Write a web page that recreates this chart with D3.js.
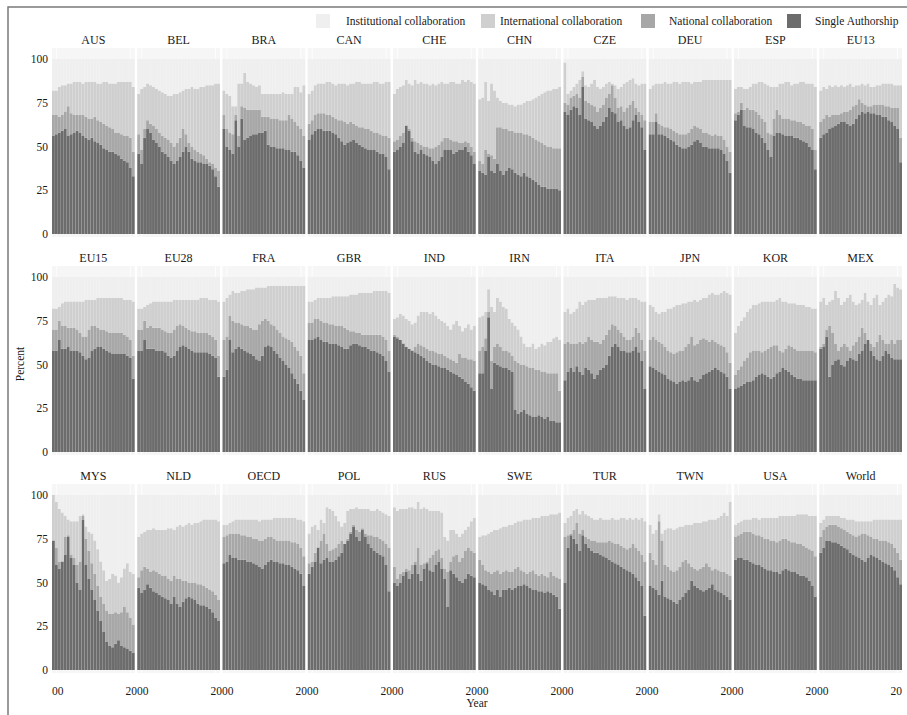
<!DOCTYPE html>
<html>
<head>
<meta charset="utf-8">
<script src="https://cdn.jsdelivr.net/npm/d3@7"></script>
<style>
  body { margin: 0; background: #fff; }
  svg { display: block; font-family: "Liberation Serif", "Times New Roman", serif; }
</style>
</head>
<body>
<svg id="chart" width="907" height="715"></svg>
<script>
// Panels (facets), in reading order
const panels = ["AUS","BEL","BRA","CAN","CHE","CHN","CZE","DEU","ESP","EU13",
                "EU15","EU28","FRA","GBR","IND","IRN","ITA","JPN","KOR","MEX",
                "MYS","NLD","OECD","POL","RUS","SWE","TUR","TWN","USA","World"];

const years = [1990,1991,1992,1993,1994,1995,1996,1997,1998,1999,2000,2001,2002,2003,
               2004,2005,2006,2007,2008,2009,2010,2011,2012,2013,2014,2015,2016,2017];

// Cumulative percent: single authorship
const singleTop = [
  [56,57,58,59,60,56,57,58,59,58,56,55,54,55,53,52,51,49,48,47,47,46,45,43,42,41,38,33],
  [46,40,55,60,58,54,52,50,47,46,44,42,40,42,44,47,50,47,43,42,41,41,40,40,39,37,33,27],
  [60,50,48,46,65,50,66,54,55,56,57,57,58,58,59,51,50,50,49,49,49,48,48,47,47,45,42,38],
  [54,57,59,60,60,59,59,59,58,57,55,53,51,52,53,54,52,51,50,49,48,48,48,47,46,46,44,37],
  [47,48,50,52,62,59,53,47,46,48,46,45,44,42,40,42,44,48,48,48,46,47,48,48,50,47,45,40],
  [36,35,34,44,36,35,40,36,34,36,38,37,35,34,33,35,33,32,31,30,28,27,27,26,26,26,26,25],
  [70,68,71,73,72,68,84,66,65,64,62,60,62,64,67,72,70,69,64,65,62,60,61,65,68,64,61,48],
  [57,57,64,57,57,56,55,54,53,51,50,49,49,50,51,53,54,52,50,50,49,49,49,49,48,46,42,35],
  [65,68,71,62,61,61,60,58,57,55,52,48,44,56,58,58,57,56,56,56,55,55,54,53,52,50,48,37],
  [55,57,58,60,61,62,63,64,64,63,62,63,66,68,70,69,70,69,69,68,68,67,67,65,64,62,60,41],
  [58,58,64,59,59,60,58,58,58,57,55,53,54,58,59,60,60,59,58,57,56,56,56,56,56,55,54,42],
  [58,58,64,59,59,59,58,58,58,57,55,54,55,58,60,61,60,59,58,57,57,57,57,57,56,55,54,43],
  [43,47,64,57,59,60,59,58,57,56,55,53,52,55,60,61,60,58,56,54,52,50,48,45,42,39,35,30],
  [64,64,65,66,64,63,63,62,62,62,61,60,59,59,61,62,62,61,60,60,59,58,58,57,56,55,52,46],
  [66,65,64,62,60,59,58,57,56,55,54,52,51,50,50,49,48,48,47,46,45,44,43,42,40,39,37,35],
  [45,45,58,77,36,51,50,49,48,48,47,46,24,22,23,24,22,21,20,20,21,20,19,20,18,18,17,17],
  [41,46,48,46,49,46,44,48,47,45,42,44,47,48,50,55,60,62,60,58,58,57,57,58,60,57,52,36],
  [49,48,47,46,45,44,42,41,40,39,40,41,40,41,43,41,40,42,44,45,46,47,48,47,46,45,43,36],
  [36,37,38,39,40,40,41,43,44,45,44,43,42,43,45,46,48,47,46,44,43,42,42,41,41,41,41,41],
  [59,60,66,43,50,52,53,50,49,52,54,53,52,56,58,62,64,58,55,53,52,55,58,56,54,53,53,53],
  [74,60,58,62,66,76,64,60,50,46,86,60,52,46,40,34,28,22,16,14,13,15,17,14,13,12,11,10],
  [47,44,46,49,47,45,44,43,42,41,40,38,42,38,36,39,41,42,41,40,38,37,37,36,35,33,30,28],
  [61,62,66,64,64,63,63,63,62,62,61,60,59,58,60,62,63,62,62,61,61,60,60,59,58,57,55,48],
  [55,59,62,70,61,63,64,62,62,63,65,67,72,74,78,82,76,74,80,76,72,70,68,67,66,65,60,45],
  [50,48,50,54,56,52,55,60,55,51,58,61,57,56,60,62,58,52,36,57,55,53,51,50,52,55,54,53],
  [50,49,48,46,45,43,46,42,46,46,47,46,47,48,48,49,48,47,46,46,45,45,44,45,44,43,42,35],
  [50,70,77,75,72,68,77,72,70,68,67,67,66,65,64,63,62,61,60,59,58,57,56,55,53,51,48,31],
  [48,47,46,43,51,42,41,40,39,38,40,42,44,46,51,48,47,46,45,46,47,49,46,45,44,43,42,40],
  [63,64,64,63,63,62,61,60,60,59,58,57,57,56,56,55,57,58,57,56,56,55,54,54,53,51,48,42],
  [67,70,74,74,73,73,72,71,70,69,67,66,65,64,63,62,64,66,65,64,63,62,61,60,59,57,53,49]
];

// Cumulative percent: single + national collaboration
const nationalTop = [
  [68,68,67,68,70,73,69,68,68,68,68,67,66,66,67,65,64,63,62,61,60,58,58,57,56,56,55,47],
  [57,48,60,65,63,62,60,58,56,55,54,52,50,52,55,60,57,52,50,48,47,46,45,43,41,40,38,36],
  [68,60,58,57,68,56,73,72,71,71,71,71,71,67,67,67,66,66,66,65,65,65,68,66,64,62,60,56],
  [63,65,68,69,69,69,68,68,67,66,65,65,64,63,64,63,62,61,61,60,60,59,58,58,57,56,56,55],
  [53,54,56,58,62,60,55,53,52,51,50,50,49,49,50,51,53,55,55,54,53,53,52,52,53,52,50,47],
  [42,40,48,46,45,43,61,61,60,60,59,59,58,58,58,57,57,56,55,54,53,52,51,50,50,49,49,49],
  [75,74,78,79,80,78,90,76,75,74,73,70,72,74,78,80,85,78,72,73,70,72,74,76,72,70,68,65],
  [64,64,69,63,62,61,61,60,59,58,57,57,57,58,60,62,61,60,58,58,57,56,57,56,56,54,50,47],
  [69,70,75,71,72,71,71,70,68,66,64,58,57,66,71,68,66,66,66,65,65,64,64,63,62,62,60,48],
  [64,66,68,67,68,68,68,69,70,70,71,73,74,77,75,74,73,73,74,74,74,74,73,73,72,72,72,55],
  [70,70,75,72,72,71,71,71,70,68,66,66,70,72,72,71,70,70,69,68,68,68,68,68,67,66,64,55],
  [70,70,75,71,72,71,71,71,70,69,68,68,70,72,73,72,71,70,69,69,68,68,68,68,67,66,64,55],
  [64,66,78,75,74,74,73,72,72,71,70,70,73,75,76,75,73,72,70,68,66,65,64,63,60,58,55,45],
  [74,74,76,76,75,74,74,73,73,72,72,72,71,70,69,69,68,68,67,67,67,67,67,67,67,66,64,58],
  [67,66,64,62,60,59,58,60,62,61,60,59,58,58,57,56,56,55,54,53,52,51,56,54,54,53,53,52],
  [58,60,65,80,52,60,62,60,58,58,57,55,52,51,50,50,49,48,48,47,47,46,46,45,45,45,45,35],
  [62,63,62,62,62,63,62,63,66,64,63,63,62,64,67,70,73,72,70,68,66,64,64,66,71,68,64,58],
  [64,66,64,63,62,60,58,57,56,57,58,58,60,62,66,61,62,64,65,64,63,64,63,62,61,60,57,51],
  [44,47,49,52,54,57,58,58,58,57,58,59,60,61,61,58,57,59,61,60,59,58,58,58,58,58,58,57],
  [60,62,70,72,68,62,58,60,62,60,58,61,63,66,71,68,64,62,60,63,67,64,62,62,64,62,64,64],
  [74,70,62,62,76,77,66,64,60,62,88,75,68,61,55,48,42,38,34,32,32,33,32,33,36,33,30,26],
  [53,57,59,58,56,57,56,55,54,54,52,51,54,52,52,51,51,50,50,50,49,49,48,47,46,45,43,40],
  [76,77,78,78,78,78,77,77,76,76,75,75,74,74,75,76,76,75,74,74,74,74,74,73,73,72,70,65],
  [61,62,67,70,74,78,72,68,69,70,72,74,72,75,79,83,80,79,81,78,77,77,76,76,75,74,72,70],
  [59,52,55,56,58,57,60,62,70,60,61,62,64,66,68,69,64,58,56,62,65,66,62,64,68,70,68,67],
  [63,60,57,56,55,56,57,55,56,57,56,56,58,59,57,56,55,56,57,55,54,55,54,53,56,54,53,52],
  [76,77,78,80,84,78,80,76,75,74,74,73,73,73,73,74,73,72,72,71,70,69,70,72,70,68,66,62],
  [67,63,60,85,74,60,59,57,56,57,59,62,63,61,59,58,57,58,59,61,59,57,58,57,56,56,55,54],
  [76,77,78,79,79,79,78,77,77,76,75,75,74,74,73,74,75,75,74,73,73,72,72,71,70,69,68,65],
  [76,80,82,83,83,83,82,81,80,79,78,77,76,77,78,78,77,76,75,75,74,74,74,73,72,70,67,63]
];

// Cumulative percent: single + national + international collaboration
const internationalTop = [
  [82,82,84,85,85,86,86,87,87,87,86,87,87,87,87,86,86,87,87,86,86,86,87,87,87,87,87,84],
  [80,83,84,86,85,84,83,82,81,80,79,79,80,80,81,82,83,83,84,83,83,84,84,85,85,85,86,86],
  [82,80,79,73,73,86,86,92,87,86,85,84,85,80,80,80,80,80,80,80,81,80,80,80,84,84,81,85],
  [80,82,85,86,86,86,87,87,86,85,86,86,86,85,86,86,87,87,86,86,86,86,87,87,86,86,87,87],
  [80,83,84,85,88,86,85,88,86,87,86,86,85,86,85,86,87,86,86,87,87,86,86,88,87,88,87,86],
  [77,78,87,76,86,82,78,76,75,75,74,74,73,74,74,75,76,76,77,78,79,80,81,82,82,83,83,84],
  [98,80,82,84,86,88,93,85,84,86,88,84,83,84,86,87,86,85,83,84,86,87,88,89,86,85,86,86],
  [83,85,86,86,86,87,86,86,87,87,86,87,87,87,86,87,87,87,88,88,88,88,88,88,88,88,88,88],
  [83,84,84,83,83,84,86,86,87,87,86,85,84,84,84,86,86,87,87,85,86,86,87,87,86,86,86,84],
  [82,84,83,85,84,85,84,85,84,85,86,84,85,85,86,85,86,84,84,85,85,86,86,86,86,85,85,85],
  [82,82,83,85,86,86,86,86,86,86,86,87,87,87,87,88,88,88,88,88,88,88,88,88,87,87,87,86],
  [82,82,83,84,85,86,86,86,86,86,86,86,87,87,87,87,87,87,87,87,87,88,88,88,87,87,87,86],
  [86,88,90,92,91,91,92,92,93,93,93,94,94,94,94,95,95,95,95,95,95,95,95,95,95,95,95,95],
  [86,86,87,88,88,88,88,88,89,89,89,89,89,89,90,90,90,91,91,91,91,91,92,92,92,92,92,91],
  [76,77,79,78,76,75,73,74,78,80,80,80,79,80,78,76,75,74,72,70,73,75,72,69,71,73,70,72],
  [77,78,80,93,83,80,88,86,83,82,76,74,72,70,66,62,60,60,62,59,60,62,61,63,63,65,66,64],
  [80,82,79,80,82,86,84,86,87,87,87,88,88,88,88,89,89,89,88,88,88,87,88,88,88,87,86,86],
  [84,83,80,79,80,80,82,82,83,84,84,85,85,86,86,87,86,87,88,88,90,91,90,90,91,92,91,90],
  [68,72,75,77,80,82,84,84,85,86,86,86,86,86,87,88,86,86,85,85,85,84,84,84,83,83,82,82],
  [86,88,84,86,87,92,88,84,86,88,90,86,84,85,87,91,86,84,88,90,84,86,88,90,89,96,94,93],
  [100,96,92,90,88,86,85,85,85,88,89,82,79,78,74,69,62,57,51,52,55,54,50,53,58,61,56,55],
  [76,78,79,80,80,81,80,80,80,80,81,81,80,82,83,82,83,84,83,84,84,85,86,86,86,86,86,85],
  [83,83,84,85,86,86,86,86,86,86,86,86,85,86,86,86,86,87,87,87,87,87,87,87,87,86,86,85],
  [78,82,83,80,86,84,93,92,91,88,85,82,84,91,92,92,93,92,92,92,92,91,91,92,91,90,89,88],
  [93,91,92,92,92,93,93,92,96,92,93,92,91,91,91,91,90,76,74,80,80,78,76,78,80,82,85,87],
  [76,77,77,78,79,80,80,81,82,82,83,83,84,85,85,86,86,86,87,87,87,88,88,88,89,89,89,90],
  [84,87,88,91,92,89,91,89,88,87,86,86,87,86,86,86,87,86,86,87,87,86,87,86,87,86,87,85],
  [83,78,80,89,78,80,81,81,80,81,82,82,83,83,83,84,84,84,85,85,86,86,86,87,88,90,88,96],
  [83,84,85,86,86,86,87,87,86,87,87,87,87,87,87,88,88,88,88,88,88,89,89,89,89,88,88,88],
  [84,86,88,88,88,88,88,87,87,86,86,86,85,85,85,85,85,85,86,86,86,86,86,86,86,86,86,86]
];

const categories = ["Institutional collaboration", "International collaboration",
                    "National collaboration", "Single Authorship"];
const colors = ["#efefef", "#cfcfcf", "#a7a7a7", "#6c6c6c"];
const yTicks = [0, 25, 50, 75, 100];
const xTickLabel = "2000";

const svg = d3.select("#chart");
const nCols = 10;
const rowStep = 218;
const plotTop = 59;
const plotH = 175;

// Column positions of the facets
const colScale = d3.scaleBand()
  .domain(d3.range(nCols))
  .range([52, 902])
  .paddingInner(0.03);

const y = d3.scaleLinear().domain([0, 100]).range([plotH, 0]);

const x = d3.scaleBand()
  .domain(years)
  .range([0, colScale.bandwidth()])
  .paddingInner(0.04);

// Outer frame
svg.append("path")
  .attr("d", "M8,715V7H907")
  .attr("fill", "none")
  .attr("stroke", "#7a7a7a")
  .attr("stroke-width", 1.5);

// Facets
panels.forEach((name, p) => {
  const col = p % nCols;
  const row = Math.floor(p / nCols);
  const g = svg.append("g")
    .attr("transform", `translate(${colScale(col)},${plotTop + row * rowStep})`);

  g.append("rect")
    .attr("x", 0)
    .attr("y", y(106.3))
    .attr("width", colScale.bandwidth())
    .attr("height", y(-1.7) - y(106.3))
    .attr("fill", "#f6f6f6");

  [years[1], years[26]].forEach(yr => {
    g.append("line")
      .attr("x1", x(yr) + x.bandwidth() / 2)
      .attr("x2", x(yr) + x.bandwidth() / 2)
      .attr("y1", y(106.3))
      .attr("y2", y(-1.7))
      .attr("stroke", "#fff")
      .attr("stroke-width", 0.8);
  });

  // stacked segments, bottom to top
  const rows = years.map((yr, i) => ({
    year: yr,
    levels: [0, singleTop[p][i], nationalTop[p][i], internationalTop[p][i], 100]
  }));
  const layerColors = [colors[3], colors[2], colors[1], colors[0]];

  layerColors.forEach((c, k) => {
    g.selectAll(null)
      .data(rows)
      .enter()
      .append("rect")
      .attr("x", d => x(d.year))
      .attr("width", x.bandwidth())
      .attr("y", d => y(d.levels[k + 1]))
      .attr("height", d => Math.max(0, y(d.levels[k]) - y(d.levels[k + 1])))
      .attr("fill", c);
  });

  // facet title
  g.append("text")
    .attr("x", colScale.bandwidth() / 2)
    .attr("y", -15)
    .attr("text-anchor", "middle")
    .style("font-size", "12px")
    .attr("fill", "#1a1a1a")
    .text(name);

  // y axis on first column
  if (col === 0) {
    g.selectAll(".ytick")
      .data(yTicks)
      .enter()
      .append("text")
      .attr("x", -4)
      .attr("y", d => y(d))
      .attr("dy", "0.35em")
      .attr("text-anchor", "end")
      .style("font-size", "11.5px")
      .attr("fill", "#1a1a1a")
      .text(d => d);
  }
});

// x axis labels along the bottom, clipped to the facet area
const lastRowY0 = plotTop + 2 * rowStep + plotH;
svg.append("clipPath")
  .attr("id", "xclip")
  .append("rect")
  .attr("x", 52).attr("y", 0)
  .attr("width", 850).attr("height", 715);

const tickPos = d3.range(nCols + 1).map(i => 52 + i * 85);
svg.append("g")
  .attr("clip-path", "url(#xclip)")
  .selectAll("text")
  .data(tickPos)
  .enter()
  .append("text")
  .attr("x", d => d)
  .attr("y", lastRowY0 + 25)
  .attr("text-anchor", "middle")
  .style("font-size", "11.5px")
  .attr("fill", "#1a1a1a")
  .text(xTickLabel);

// axis titles
svg.append("text")
  .attr("x", 477)
  .attr("y", 707)
  .attr("text-anchor", "middle")
  .style("font-size", "11.5px")
  .attr("fill", "#1a1a1a")
  .text("Year");

svg.append("text")
  .attr("transform", "translate(24,364) rotate(-90)")
  .attr("text-anchor", "middle")
  .style("font-size", "11.5px")
  .attr("fill", "#1a1a1a")
  .text("Percent");

// legend (positions follow the reference key)
const keyX = [316, 481, 641, 787];
const labelX = [346, 500, 669, 815];
const legend = svg.append("g").attr("transform", "translate(0,21)");
categories.forEach((c, i) => {
  legend.append("rect")
    .attr("x", keyX[i]).attr("y", -7)
    .attr("width", 14).attr("height", 14)
    .attr("fill", colors[i]);
  legend.append("text")
    .attr("x", labelX[i])
    .attr("y", 4)
    .style("font-size", "11.5px")
    .attr("fill", "#1a1a1a")
    .text(c);
});
</script>
</body>
</html>
